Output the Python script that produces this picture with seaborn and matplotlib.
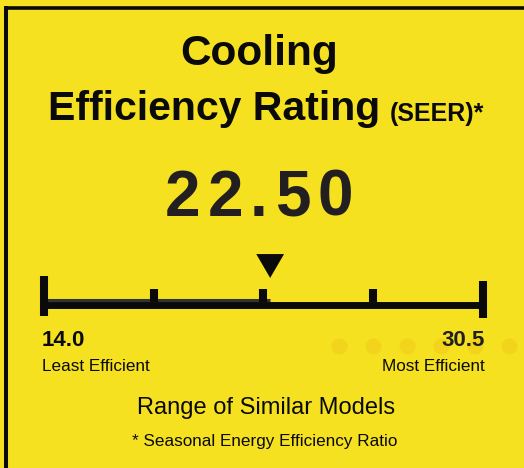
import matplotlib
matplotlib.use("Agg")
import matplotlib.pyplot as plt
import matplotlib.transforms as mtransforms
from matplotlib.lines import Line2D
from matplotlib.path import Path
import pandas as pd
import seaborn as sns

# label data
title_top = "Cooling"
title_main = "Efficiency Rating"
title_unit = "(SEER)*"
rating = 22.50
scale_min = 14.0
scale_max = 30.5
n_ticks = 5
low_label = "Least Efficient"
high_label = "Most Efficient"
caption = "Range of Similar Models"
footnote = "* Seasonal Energy Efficiency Ratio"

BG = "#F5E11F"
INK = "#0A0A0A"
NUM = "#231F20"
SANS = ["Liberation Sans", "DejaVu Sans"]

sns.set_theme(style="white", rc={"figure.facecolor": BG, "axes.facecolor": BG})

W, H = 524, 468
fig = plt.figure(figsize=(W / 100, H / 100), dpi=100)
ax = fig.add_axes([0, 0, 1, 1])
ax.set_axis_off()

# x axis in rating units, y axis in pixels from the top
px_per_unit = (483 - 44) / (scale_max - scale_min)
ax.set_xlim(scale_min - 44 / px_per_unit, scale_max + (W - 483) / px_per_unit)
ax.set_ylim(H, 0)

# pixel transform for text, frame and decoration
px = mtransforms.Affine2D().scale(1 / W, -1 / H).translate(0, 1) + fig.transFigure

# frame (left and top edge only)
fig.add_artist(Line2D([4, W], [7.5, 7.5], color=INK, lw=2.6, transform=px,
                      solid_capstyle="butt"))
fig.add_artist(Line2D([6, 6], [6, H], color=INK, lw=2.9, transform=px,
                      solid_capstyle="butt"))

# faint decorative dots
for i in range(6):
    fig.add_artist(Line2D([339 + 34 * i], [346], marker="o", ms=11.5, mec="none",
                          mfc="#F2D41C", transform=px, zorder=1))

# scale bar
bar = pd.DataFrame({"x": [scale_min, scale_max], "y": [304.5, 304.5]})
sns.lineplot(data=bar, x="x", y="y", color=INK, lw=5.0, ax=ax, solid_capstyle="butt", zorder=3)
fill = pd.DataFrame({"x": [scale_min, rating], "y": [299.5, 299.5]})
sns.lineplot(data=fill, x="x", y="y", color="#333333", lw=2.2, ax=ax, solid_capstyle="butt", zorder=4)

# end caps and ticks
step = (scale_max - scale_min) / (n_ticks - 1)
tick_vals = [scale_min + i * step for i in range(1, n_ticks - 1)]
ax.vlines([scale_min], 276, 316, color=INK, lw=5.8, zorder=5)
ax.vlines([scale_max], 281, 318, color=INK, lw=5.8, zorder=5)
ax.vlines(tick_vals, 289, 302, color=INK, lw=5.8, zorder=5)

# pointer (y axis is flipped, so the path apex points down on screen)
tri = Path([(-1, 0.86), (1, 0.86), (0, -0.86), (-1, 0.86)], closed=True)
ptr = pd.DataFrame({"x": [rating], "y": [266]})
sns.scatterplot(data=ptr, x="x", y="y", marker=tri, s=400, color=INK, edgecolor="none", ax=ax, zorder=6)

# titles
fig.text(259, 65, title_top, transform=px, ha="center", va="baseline",
         fontsize=30.5, fontweight="bold", family=SANS, color=INK)
fig.text(48, 120.5, title_main, transform=px, ha="left", va="baseline",
         fontsize=29.5, fontweight="bold", family=SANS, color=INK)
fig.text(484, 120.5, title_unit, transform=px, ha="right", va="baseline",
         fontsize=18, fontweight="bold", family=SANS, color=INK)

# big rating number with letter spacing
num_str = f"{rating:.2f}"
fig.canvas.draw()
rend = fig.canvas.get_renderer()
chars = [fig.text(0, 216, c, transform=px, ha="left", va="baseline", fontsize=46,
                  fontweight="bold", family=SANS, color=NUM)
         for c in num_str]
widths = [c.get_window_extent(rend).width for c in chars]
gap = 7
total = sum(widths) + gap * (len(chars) - 1)
x0 = 259 - total / 2
for c, w in zip(chars, widths):
    c.set_x(x0)
    x0 += w + gap

# scale labels
fig.text(42, 346, f"{scale_min:.1f}", transform=px, ha="left", va="baseline",
         fontsize=16, fontweight="bold", family=SANS, color=INK, zorder=5)
fig.text(485, 346, f"{scale_max:.1f}", transform=px, ha="right", va="baseline",
         fontsize=16, fontweight="bold", family=SANS, color=NUM, zorder=5)
fig.text(42, 371, low_label, transform=px, ha="left", va="baseline",
         fontsize=12.3, family=SANS, color=INK)
fig.text(485, 371, high_label, transform=px, ha="right", va="baseline",
         fontsize=12.3, family=SANS, color=INK)

fig.text(266.5, 414, caption, transform=px, ha="center", va="baseline",
         fontsize=17, family=SANS, color=INK)
fig.text(264.5, 446, footnote, transform=px, ha="center", va="baseline",
         fontsize=12.3, family=SANS, color=INK)

fig.savefig("out.png", dpi=100, facecolor=BG)
